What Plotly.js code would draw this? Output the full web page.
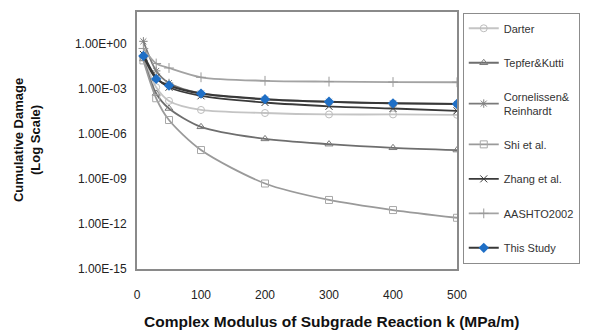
<!DOCTYPE html>
<html>
<head>
<meta charset="utf-8">
<script src="https://cdn.plot.ly/plotly-3.0.1.min.js"></script>
<style>html,body{margin:0;padding:0;background:#fff;}#chart{width:592px;height:331px;}</style>
</head>
<body>
<div id="chart"></div>
<script>
// k (MPa/m)
const kValues = [10, 30, 50, 100, 200, 300, 400, 500];
const darter = [1.3e-1, 1.3e-3, 1.6e-4, 4e-5, 2.5e-5, 2e-5, 2e-5, 1.9e-5];
const tepferKutti = [1e-1, 5e-4, 5e-5, 3e-6, 4.7e-7, 2.1e-7, 1.2e-7, 8.5e-8];
const cornelissen = [1.5e0, 1.6e-2, 2.5e-3, 5e-4, 2e-4, 1.4e-4, 1.1e-4, 1e-4];
const shi = [8e-2, 2.4e-4, 8.5e-6, 8.5e-8, 5e-10, 4e-11, 8.5e-12, 2.6e-12];
const zhang = [2e-1, 6e-3, 1.3e-3, 3.5e-4, 1.25e-4, 7e-5, 5e-5, 3.5e-5];
const aashto = [5e-1, 5e-2, 2.5e-2, 6e-3, 3.5e-3, 3.1e-3, 2.9e-3, 2.8e-3];
const thisStudy = [1.6e-1, 4.7e-3, 1.7e-3, 4.9e-4, 2.1e-4, 1.4e-4, 1.1e-4, 1e-4];

const yTickVals = [1e0, 1e-3, 1e-6, 1e-9, 1e-12, 1e-15];
const yTickText = ["1.00E+00", "1.00E-03", "1.00E-06", "1.00E-09", "1.00E-12", "1.00E-15"];
const xTickVals = [0, 100, 200, 300, 400, 500];

function tr(name, y, lineColor, symbol, mColor, group, width) {
  return {
    x: kValues, y: y, name: name, type: 'scatter', mode: 'lines+markers',
    legendgroup: group,
    line: {color: lineColor, width: width || 1.8, shape: 'spline', smoothing: 0.8},
    marker: {symbol: symbol, size: 7, color: mColor, line: {color: mColor, width: 1}}
  };
}

const data = [
  tr('Darter', darter, '#c4c4c4', 'circle-open', '#bdbdbd', 'g1'),
  tr('Tepfer&Kutti', tepferKutti, '#6e6e6e', 'triangle-up-open', '#7a7a7a', 'g2'),
  tr('Cornelissen&<br>Reinhardt', cornelissen, '#7a7a7a', 'asterisk-open', '#808080', 'g3'),
  tr('Shi et al.', shi, '#9a9a9a', 'square-open', '#a8a8a8', 'g4'),
  tr('Zhang et al.', zhang, '#3a3a3a', 'x-thin-open', '#3a3a3a', 'g5'),
  tr('AASHTO2002', aashto, '#a3a3a3', 'cross-thin-open', '#9a9a9a', 'g6'),
  {
    x: kValues, y: thisStudy, name: 'This Study', type: 'scatter', mode: 'lines+markers',
    legendgroup: 'g7',
    line: {color: '#383838', width: 2, shape: 'spline', smoothing: 0.8},
    marker: {symbol: 'diamond', size: 8, color: '#1f6fc6'}
  }
];

const layout = {
  width: 592, height: 331,
  margin: {l: 137, r: 129, t: 12, b: 62},
  paper_bgcolor: '#ffffff', plot_bgcolor: '#ffffff',
  font: {family: 'Liberation Sans, Arial, sans-serif', size: 12, color: '#222'},
  showlegend: true,
  legend: {
    x: 1.018, xanchor: 'left', y: 0.997, yanchor: 'top',
    bordercolor: '#8c8c8c', borderwidth: 1, bgcolor: '#fff',
    font: {size: 11, color: '#333'},
    traceorder: 'grouped', tracegroupgap: 15.5, itemwidth: 30
  },
  xaxis: {
    range: [0, 500], tickvals: xTickVals, ticks: '', showgrid: false, zeroline: false,
    showline: true, linecolor: '#8a8a8a', linewidth: 2, mirror: true,
    tickfont: {size: 12, color: '#222'}, ticklabelstandoff: 14
  },
  yaxis: {
    type: 'log', range: [-15, 2.13], tickvals: yTickVals, ticktext: yTickText,
    ticks: '', showgrid: false, zeroline: false,
    showline: true, linecolor: '#8a8a8a', linewidth: 2, mirror: true,
    tickfont: {size: 12, color: '#222'}, ticklabelstandoff: 6
  },
  annotations: [
    {text: '<b>Complex Modulus of Subgrade Reaction k (MPa/m)</b>', xref: 'paper', yref: 'paper',
     x: 0.607, y: -0.205, xanchor: 'center', yanchor: 'middle', showarrow: false,
     font: {size: 15.5, color: '#111'}},
    {text: '<b>Cumulative Damage<br>(Log Scale)</b>', xref: 'paper', yref: 'paper',
     x: -0.345, y: 0.5, xanchor: 'center', yanchor: 'middle', showarrow: false, textangle: -90,
     font: {size: 13, color: '#111'}}
  ]
};

Plotly.newPlot('chart', data, layout, {displayModeBar: false, staticPlot: true});
</script>
</body>
</html>
